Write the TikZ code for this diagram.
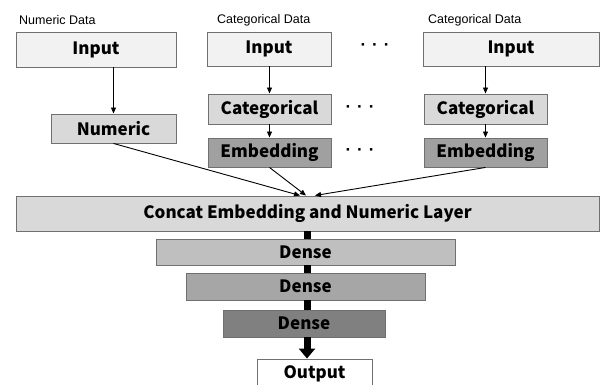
\documentclass[tikz,border=0pt]{standalone}
\usepackage{fontspec}
\setmainfont{Liberation Sans}
\newfontfamily\jp{Noto Sans CJK JP}
\usetikzlibrary{arrows.meta,calc}
\definecolor{cin}{HTML}{F2F2F2}
\definecolor{cmid}{HTML}{D9D9D9}
\definecolor{cemb}{HTML}{A0A0A0}
\definecolor{cd1}{HTML}{BFBFBF}
\definecolor{cd2}{HTML}{A6A6A6}
\definecolor{cd3}{HTML}{808080}
\definecolor{cbord}{HTML}{707070}
\tikzset{
  box/.style={draw=cbord, line width=0.9pt, inner sep=0pt, font=\jp\bfseries\fontsize{17}{17}\selectfont, text=black},
  lab/.style={font=\fontsize{12.5}{12.5}\selectfont, anchor=west, inner sep=0pt},
  dotsn/.style={font=\bfseries\fontsize{17}{17}\selectfont, inner sep=0pt},
  thin arrow/.style={line width=0.9pt, -{Triangle[length=6pt,width=5pt]}},
  thick line/.style={line width=7pt, black},
}
\begin{document}
\begin{tikzpicture}[x=1pt,y=-1pt]
\useasboundingbox (0,0) rectangle (600,385);
\clip (0,0) rectangle (600,385);
% labels
\node[lab] (l1) at (19,20) {Numeric Data};
\node[lab] (l2) at (217,20) {Categorical Data};
\node[lab] (l3) at (428,20) {Categorical Data};
% top row
\node[box, fill=cin, minimum width=160pt, minimum height=35pt] (in1) at (96,49.5) {Input};
\node[box, fill=cin, minimum width=124pt, minimum height=34pt] (in2) at (269,49) {Input};
\node[box, fill=cin, minimum width=176pt, minimum height=34pt] (in3) at (511,49) {Input};
\node[box, fill=cmid, minimum width=125pt, minimum height=29pt] (num) at (113.5,128.5) {Numeric};
\node[box, fill=cmid, minimum width=123pt, minimum height=30pt] (cat2) at (269.5,109) {Categorical};
\node[box, fill=cemb, minimum width=123pt, minimum height=29pt] (emb2) at (269.5,152.5) {Embedding};
\node[box, fill=cmid, minimum width=123pt, minimum height=30pt] (cat3) at (485.5,109) {Categorical};
\node[box, fill=cemb, minimum width=123pt, minimum height=29pt] (emb3) at (485.5,152.5) {Embedding};
% dots
\node[dotsn] (dt1) at (375,47) {·\hspace{6pt}·\hspace{6pt}·};
\node[dotsn] (dt2) at (360,109) {·\hspace{6pt}·\hspace{6pt}·};
\node[dotsn] (dt3) at (360,152) {·\hspace{6pt}·\hspace{6pt}·};
% lower stack
\node[box, fill=cmid, minimum width=583pt, minimum height=35pt] (concat) at (307.5,213.5) {Concat Embedding and Numeric Layer};
\node[box, fill=cd1, minimum width=299pt, minimum height=26pt] (d1) at (305.5,252) {Dense};
\node[box, fill=cd2, minimum width=239pt, minimum height=27pt] (d2) at (305.5,286.5) {Dense};
\node[box, fill=cd3, minimum width=162pt, minimum height=27pt] (d3) at (304,323.5) {Dense};
\node[box, fill=white, minimum width=115pt, minimum height=30pt] (out) at (314.5,374) {Output};
% connectors
\draw[thin arrow] (in1.south -| num.north) -- (num.north);
\draw[thin arrow] (in2.south -| cat2.north) -- (cat2.north);
\draw[thin arrow] (cat2) -- (emb2);
\draw[thin arrow] (in3.south -| cat3.north) -- (cat3.north);
\draw[thin arrow] (cat3) -- (emb3);
\coordinate (t1) at (300,195.5);
\coordinate (t2) at (306,195.5);
\coordinate (t3) at (315,195.5);
\draw[thin arrow] (num.south) -- (t1);
\draw[thin arrow] (emb2.south) -- (t2);
\draw[thin arrow] (emb3.south) -- (t3);
\coordinate (ax) at (307,0);
\draw[thick line] (ax |- concat.south) -- (ax |- d1.north);
\draw[thick line] (ax |- d1.south) -- (ax |- d2.north);
\draw[thick line] (ax |- d2.south) -- (ax |- d3.north);
\draw[thick line, -{Triangle[length=10pt,width=16pt]}] (ax |- d3.south) -- (ax |- out.north);
\end{tikzpicture}
\end{document}
